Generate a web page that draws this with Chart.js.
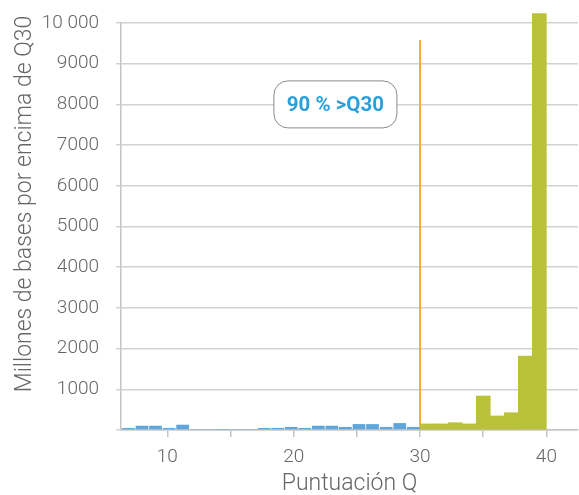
<!DOCTYPE html>
<html>
<head>
<meta charset="utf-8">
<script src="https://cdn.jsdelivr.net/npm/chart.js@4/dist/chart.umd.min.js"></script>
<style>
  html, body { margin: 0; padding: 0; background: #fff; }
</style>
</head>
<body>
<canvas id="qChart" width="579" height="495"></canvas>
<script>
// bin centres (Q score) and heights (millions of bases)
const belowQ30Centers = [6.92, 7.99, 9.06, 10.14, 11.21, 12.29, 13.36, 14.43, 15.51, 16.58, 17.65,
  18.73, 19.8, 20.87, 21.95, 23.02, 24.09, 25.17, 26.24, 27.32, 28.39, 29.46];
const belowQ30Values = [50, 105, 105, 50, 130, 25, 25, 6, 25, 25, 50,
  50, 75, 50, 105, 105, 75, 145, 145, 75, 170, 75];

const aboveQ30Centers = [30.56, 31.67, 32.78, 33.89, 35.0, 36.11, 37.22, 38.33, 39.44];
const aboveQ30Values = [150, 150, 180, 150, 835, 345, 425, 1815, 10230];

const xTickValues = [10, 15, 20, 25, 30, 35, 40];
const xTickLabels = ['10', '', '20', '', '30', '', '40'];
const yTickLabels = ['', '1000', '2000', '3000', '4000', '5000', '6000', '7000', '8000', '9000', '10 000'];

const thresholdQ = 30;
const thresholdTop = 9580;
const calloutAt = { x: 23.3, y: 8000 };
const calloutText = '90 % >Q30';
const yTitle = 'Millones de bases por encima de Q30';

const textColor = '#666666';
const gridColor = '#d2d2d2';
const axisColor = '#c4c4c4';
const font = 'Roboto, "Noto Sans", sans-serif';

const overlays = {
  id: 'overlays',
  beforeDatasetsDraw(chart) {
    const { ctx, scales } = chart;
    const x = scales.x.getPixelForValue(thresholdQ);
    ctx.save();
    ctx.strokeStyle = '#f6a935';
    ctx.lineWidth = 2;
    ctx.beginPath();
    ctx.moveTo(x, scales.y.getPixelForValue(thresholdTop));
    ctx.lineTo(x, scales.y.getPixelForValue(0));
    ctx.stroke();
    ctx.restore();
  },
  afterDatasetsDraw(chart) {
    const { ctx, scales } = chart;
    const cx = scales.x.getPixelForValue(calloutAt.x);
    const cy = scales.y.getPixelForValue(calloutAt.y);
    const w = 123, h = 47;
    ctx.save();
    ctx.beginPath();
    ctx.roundRect(cx - w / 2, cy - h / 2, w, h, 14);
    ctx.fillStyle = '#fff';
    ctx.fill();
    ctx.strokeStyle = '#8a8a8a';
    ctx.lineWidth = 1;
    ctx.stroke();
    ctx.fillStyle = '#2a9fd8';
    ctx.font = 'bold 20.5px ' + font;
    ctx.textAlign = 'center';
    ctx.textBaseline = 'middle';
    ctx.fillText(calloutText, cx, cy + 1);
    ctx.restore();
  },
  afterDraw(chart) {
    const { ctx } = chart;
    ctx.save();
    ctx.translate(25.5, 204);
    ctx.rotate(-Math.PI / 2);
    ctx.fillStyle = textColor;
    ctx.font = '300 23px ' + font;
    ctx.textAlign = 'center';
    ctx.textBaseline = 'middle';
    ctx.fillText(yTitle, 0, 0);
    ctx.restore();
  }
};

new Chart(document.getElementById('qChart'), {
  type: 'bar',
  data: {
    datasets: [
      {
        data: belowQ30Centers.map((q, i) => ({ x: q, y: belowQ30Values[i] })),
        backgroundColor: '#5ea6db',
        barPercentage: 0.94,
        categoryPercentage: 1,
        grouped: false,
        clip: false
      },
      {
        data: aboveQ30Centers.map((q, i) => ({ x: q, y: aboveQ30Values[i] })),
        xAxisID: 'x2',
        backgroundColor: '#b9c23a',
        barPercentage: 1,
        categoryPercentage: 1,
        grouped: false,
        clip: false
      }
    ]
  },
  options: {
    responsive: false,
    animation: false,
    devicePixelRatio: 1,
    layout: { padding: { top: 23, right: 1, left: 0, bottom: 0 } },
    plugins: {
      legend: { display: false },
      tooltip: { enabled: false }
    },
    scales: {
      x: {
        type: 'linear',
        min: 6.33,
        max: 42.5,
        offset: false,
        afterBuildTicks: (scale) => {
          scale.ticks = xTickValues.map((v) => ({ value: v }));
        },
        afterFit: (scale) => {
          scale.height = 65;
          scale.paddingLeft = 0;
          scale.paddingRight = 0;
        },
        ticks: {
          autoSkip: false,
          maxRotation: 0,
          padding: 9,
          color: textColor,
          font: { family: font, size: 19, weight: 300 },
          callback: (value, index) => xTickLabels[index]
        },
        grid: {
          offset: false,
          drawOnChartArea: false,
          drawTicks: true,
          tickLength: 7,
          color: axisColor,
          lineWidth: 1.5
        },
        border: { display: true, color: axisColor, width: 1.5 },
        title: {
          display: true,
          text: 'Puntuación Q',
          color: textColor,
          font: { family: font, size: 23, weight: 300, lineHeight: 0.9 },
          padding: { top: 0, bottom: 0 }
        }
      },
      x2: {
        type: 'linear',
        display: false,
        offset: false,
        min: 6.33,
        max: 42.5
      },
      y: {
        min: 0,
        max: 10000,
        afterBuildTicks: (scale) => {
          scale.ticks = yTickLabels.map((_, i) => ({ value: i * 1000 }));
        },
        afterFit: (scale) => {
          scale.width = 121;
          scale.paddingTop = 0;
          scale.paddingBottom = 0;
        },
        ticks: {
          padding: 17,
          color: textColor,
          font: { family: font, size: 19, weight: 300 },
          callback: (value, index) => yTickLabels[index]
        },
        grid: {
          color: gridColor,
          lineWidth: 1.5,
          tickLength: 5
        },
        border: { display: true, color: axisColor, width: 1.5 }
      }
    }
  },
  plugins: [overlays]
});
</script>
</body>
</html>
